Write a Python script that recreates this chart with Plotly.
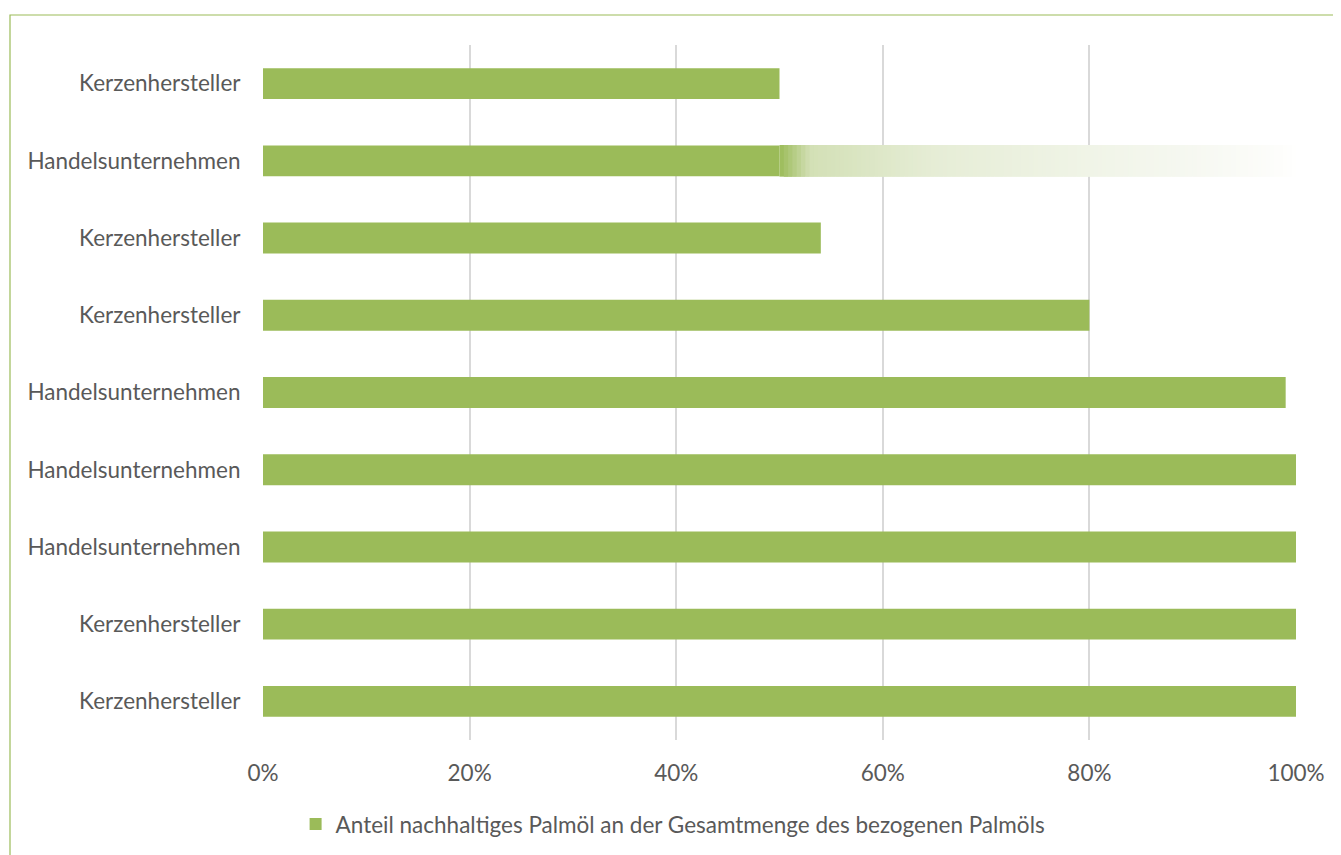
import plotly.graph_objects as go

# Data (bottom to top)
categories = ["Kerzenhersteller", "Kerzenhersteller", "Handelsunternehmen", "Handelsunternehmen",
              "Handelsunternehmen", "Kerzenhersteller", "Kerzenhersteller", "Handelsunternehmen",
              "Kerzenhersteller"]
values = [100, 100, 100, 100, 99, 80, 54, 50, 50]
# faded (gradient) extension of one bar
gradient_row = 7
gradient_start = 50
gradient_end = 100

x_ticks = [0, 20, 40, 60, 80, 100]
x_ticklabels = ["0%", "20%", "40%", "60%", "80%", "100%"]
legend_name = "Anteil nachhaltiges Palmöl an der Gesamtmenge des bezogenen Palmöls"

GREEN = "#9BBB59"
TEXT = "#595959"
FONT = "Lato"
FS = 22.5

ypos = list(range(len(categories)))

fig = go.Figure()

# gradient segments
stops = [(0.0, (155, 187, 89)), (0.06, (211, 224, 182)), (0.3, (230, 237, 214)),
         (0.6, (240, 244, 231)), (0.8, (246, 248, 241)), (0.97, (253, 253, 251)),
         (1.0, (255, 255, 255))]

def interp(t):
    for (t0, c0), (t1, c1) in zip(stops[:-1], stops[1:]):
        if t0 <= t <= t1:
            f = (t - t0) / (t1 - t0) if t1 > t0 else 0
            return "rgb(%d,%d,%d)" % tuple(round(a + (b - a) * f) for a, b in zip(c0, c1))
    return "rgb(255,255,255)"

n_seg = 120
seg_w = (gradient_end - gradient_start) / n_seg
seg_bases = [gradient_start + i * seg_w for i in range(n_seg)]
seg_colors = [interp((i + 0.5) / n_seg) for i in range(n_seg)]
seg_len = [seg_w * 2 if i < n_seg - 1 else seg_w for i in range(n_seg)]
fig.add_trace(go.Bar(
    y=[gradient_row] * n_seg, x=seg_len, base=seg_bases,
    orientation="h", marker=dict(color=seg_colors, line=dict(width=0)),
    width=0.41, showlegend=False, hoverinfo="skip",
))

fig.add_trace(go.Bar(
    y=ypos, x=values, orientation="h", name=legend_name,
    marker=dict(color=GREEN, line=dict(width=0)), width=0.4,
))

fig.update_layout(
    width=1341, height=855,
    margin=dict(l=255, r=53, t=37, b=123, autoexpand=False),
    plot_bgcolor="white", paper_bgcolor="white",
    barmode="overlay",
    font=dict(family=FONT, size=FS, color=TEXT),
    xaxis=dict(range=[0, 100], tickvals=x_ticks, ticktext=x_ticklabels,
               showgrid=True, gridcolor="#D9D9D9", gridwidth=1.5,
               zeroline=False, showline=False,
               ticks="outside", ticklen=13, tickcolor="rgba(0,0,0,0)",
               tickfont=dict(family=FONT, size=FS, color=TEXT)),
    yaxis=dict(range=[-0.5, len(categories) - 0.5], tickvals=ypos, ticktext=categories,
               showgrid=False, zeroline=False, showline=False,
               ticks="outside", ticklen=17, tickcolor="rgba(0,0,0,0)",
               tickfont=dict(family=FONT, size=FS, color=TEXT)),
    legend=dict(orientation="h", x=0.397, xanchor="center", y=-0.0906, yanchor="top",
                font=dict(family=FONT, size=FS, color=TEXT)),
    shapes=[dict(type="rect", xref="paper", yref="paper",
                 x0=(10 - 263) / 1033, x1=1.2, y0=-0.3, y1=1 + 30 / 695,
                 line=dict(color=GREEN, width=1.2), fillcolor="rgba(0,0,0,0)", layer="below")],
)

fig.write_html("out.html")
